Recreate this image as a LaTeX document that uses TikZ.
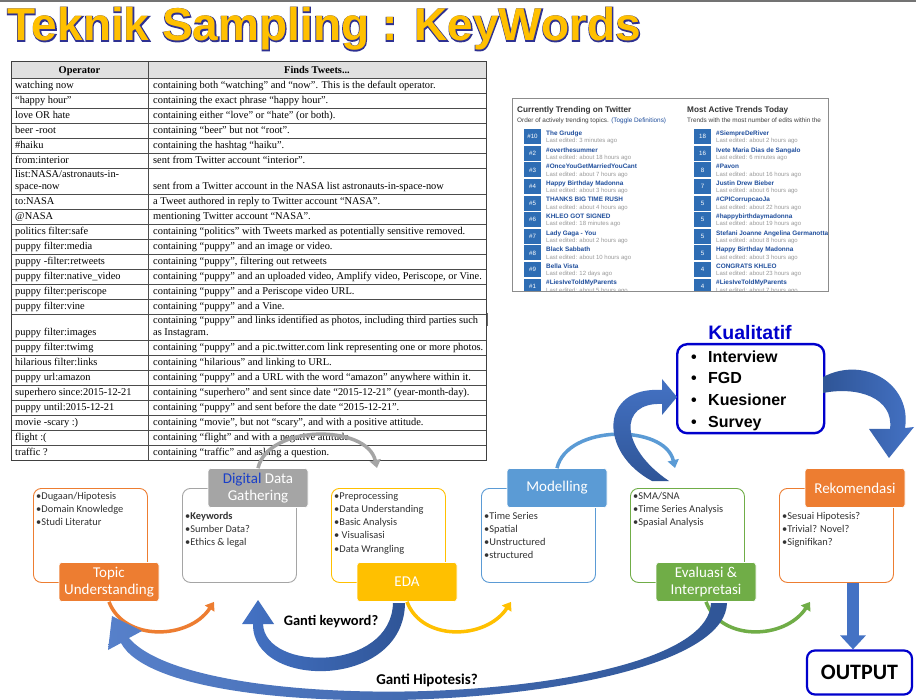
\documentclass[tikz,border=0pt]{standalone}
\usepackage{fontspec}
\setmainfont{Carlito}
\newfontfamily\serifTab{Liberation Serif}
\newfontfamily\arialF{Liberation Sans}
\newfontfamily\titleFill{Liberation Sans Bold}
\newfontfamily\titleRim{Liberation Sans Bold}[FakeBold=4]
\usetikzlibrary{positioning,calc,arrows.meta}

\definecolor{tuOrange}{HTML}{ED7D31}
\definecolor{ddGray}{HTML}{A5A5A5}
\definecolor{edaYellow}{HTML}{FFC000}
\definecolor{mdBlue}{HTML}{5B9BD5}
\definecolor{evGreen}{HTML}{70AD47}
\definecolor{kwBlue}{HTML}{4472C4}
\definecolor{kwDark}{HTML}{2F5597}
\definecolor{kualBlue}{HTML}{0000CC}
\definecolor{digBlue}{HTML}{1A3FC8}
\definecolor{titleYellow}{HTML}{FFC000}
\definecolor{titleBlue}{HTML}{2E3192}
\definecolor{trendBlue}{HTML}{2E6DB4}
\definecolor{trendLink}{HTML}{1F4E9C}

\tikzset{
  tabline/.style={draw=black!70, line width=0.6pt},
  opcell/.style={anchor=base west, inner sep=0pt, font=\serifTab\fontsize{10.4}{11}\selectfont},
  procbox/.style={draw=#1, line width=0.9pt, rounded corners=8pt, fill=white,
    minimum width=114pt, minimum height=94pt, anchor=north west},
  proctab/.style={fill=#1, draw=white, line width=0.6pt, rounded corners=3pt,
    minimum width=100pt, minimum height=39pt, text=white, align=center, inner sep=0pt,
    font=\fontsize{15}{17}\selectfont},
  bullets/.style={anchor=north west, align=left, inner sep=0pt, text=black!80,
    font=\fontsize{10.4}{13.2}\selectfont},
  cyclearc/.style={draw=#1, line width=3.5pt, -{Triangle[width=11pt,length=8pt]}},
  trendhead/.style={anchor=base west, inner sep=0pt, text=black!80, font=\arialF\bfseries\fontsize{8.2}{9}\selectfont},
  trendsub/.style={anchor=base west, inner sep=0pt, text=black!75, font=\arialF\fontsize{6.4}{7}\selectfont},
  trendbadge/.style={fill=trendBlue, text=white, minimum width=17pt, minimum height=15pt, inner sep=0pt,
    font=\arialF\fontsize{6.2}{7}\selectfont},
  trendtitle/.style={anchor=base west, inner sep=0pt, text=trendLink, font=\arialF\bfseries\fontsize{6.4}{7}\selectfont},
  trendago/.style={anchor=base west, inner sep=0pt, text=black!40, font=\arialF\fontsize{6}{7}\selectfont},
  kualitem/.style={anchor=base west, inner sep=0pt, font=\arialF\bfseries\fontsize{16}{18}\selectfont},
  askme/.style={inner sep=0pt, font=\bfseries\fontsize{14.5}{16}\selectfont},
}

\begin{document}
\begin{tikzpicture}[x=1pt, y=-1pt]
  \useasboundingbox (0,0) rectangle (916,700);
  \fill[white] (0,0) rectangle (916,700);
  \fill[black!55] (0,0) rectangle (916,2.5);

  % Title with its rim
  \node[anchor=base west, inner sep=0pt, text=titleBlue, font=\titleRim\fontsize{46}{48}\selectfont]
    (titlerim) at (7,41) {Teknik Sampling : KeyWords};
  \node[anchor=base west, inner sep=0pt, text=titleYellow, font=\titleFill\fontsize{46}{48}\selectfont]
    (title) at (7,41) {Teknik Sampling : KeyWords};

  % Search operator table
  \fill[black!12] (11,61) rectangle (486,78);
  \node[opcell, anchor=base, font=\serifTab\bfseries\fontsize{10.4}{11}\selectfont] (ophead) at (79.5,73.5) {Operator};
  \node[opcell, anchor=base, font=\serifTab\bfseries\fontsize{10.4}{11}\selectfont] (fdhead) at (317,73.5) {Finds Tweets...};
  \draw[tabline] (11,78) -- (486,78);
  \foreach \yb/\op/\fd [count=\r] in {
    93/watching now/containing both “watching” and “now”. This is the default operator.,
    108/“happy hour”/containing the exact phrase “happy hour”.,
    123/love OR hate/containing either “love” or “hate” (or both).,
    138/beer -root/containing “beer” but not “root”.,
    153/\#haiku/containing the hashtag “haiku”.,
    168/from:interior/sent from Twitter account “interior”.,
    209/to:NASA/a Tweet authored in reply to Twitter account “NASA”.,
    224/@NASA/mentioning Twitter account “NASA”.,
    239/politics filter:safe/containing “politics” with Tweets marked as potentially sensitive removed.,
    254/puppy filter:media/containing “puppy” and an image or video.,
    269/puppy -filter:retweets/{containing “puppy”, filtering out retweets},
    284/puppy filter:native\_video/{containing “puppy” and an uploaded video, Amplify video, Periscope, or Vine.},
    299/puppy filter:periscope/containing “puppy” and a Periscope video URL.,
    314/puppy filter:vine/containing “puppy” and a Vine.,
    355/puppy filter:twimg/containing “puppy” and a pic.twitter.com link representing one or more photos.,
    370/hilarious filter:links/containing “hilarious” and linking to URL.,
    385/puppy url:amazon/containing “puppy” and a URL with the word “amazon” anywhere within it.,
    400/superhero since:2015-12-21/containing “superhero” and sent since date “2015-12-21” (year-month-day).,
    415/puppy until:2015-12-21/containing “puppy” and sent before the date “2015-12-21”.,
    430/movie -scary :)/{containing “movie”, but not “scary”, and with a positive attitude.},
    445/flight :(/containing “flight” and with a negative attitude.,
    460/traffic ?/containing “traffic” and asking a question.}
  {
    \draw[tabline] (11,\yb) -- (486,\yb);
    \node[opcell] (op\r) at (15,\yb-4.5) {\op};
    \node[opcell] (fd\r) at (153,\yb-4.5) {\fd};
  }
  % two-line rows
  \draw[tabline] (11,194) -- (486,194);
  \node[opcell] (oplist) at (15,178) {list:NASA/astronauts-in-};
  \node[opcell] (oplist2) at (15,189.5) {space-now};
  \node[opcell] (fdlist) at (153,189.5) {sent from a Twitter account in the NASA list astronauts-in-space-now};
  \draw[tabline] (11,340) -- (486,340);
  \node[opcell] (fdimg) at (153,324) {containing “puppy” and links identified as photos, including third parties such};
  \node[opcell] (fdimg2) at (153,335.5) {as Instagram.};
  \node[opcell] (opimg) at (15,335.5) {puppy filter:images};
  \draw[tabline] (148,61) -- (148,460);
  \draw[black!75, line width=0.9pt] (11,61) rectangle (486,460);
  \draw[black!60, line width=0.6pt] (487.5,313) -- (487.5,326);

  % Trending on Twitter panel
  \draw[black!45, line width=0.8pt] (512,98) rectangle (828,291);
  \begin{scope}
    \clip (512.5,98.5) rectangle (827.5,290.5);
    \node[trendhead] (lhead) at (517,113) {Currently Trending on Twitter};
    \node[trendsub] (lsub) at (517,123) {Order of actively trending topics. \textcolor{trendLink}{(Toggle Definitions)}};
    \node[trendhead] (rhead) at (687,113) {Most Active Trends Today};
    \node[trendsub] (rsub) at (687,123) {Trends with the most number of edits within the};
    \foreach \nm/\ttl/\ago [count=\i] in {
      \#10/The Grudge/3 minutes ago,
      \#2/\#overthesummer/about 18 hours ago,
      \#3/\#OnceYouGetMarriedYouCant/about 7 hours ago,
      \#4/Happy Birthday Madonna/about 3 hours ago,
      \#5/THANKS BIG TIME RUSH/about 4 hours ago,
      \#6/KHLEO GOT SIGNED/18 minutes ago,
      \#7/Lady Gaga - You/about 2 hours ago,
      \#8/Black Sabbath/about 10 hours ago,
      \#9/Bella Vista/12 days ago,
      \#1/\#LiesIveToldMyParents/about 5 hours ago}
    {
      \node[trendbadge] (lb\i) at (532.5,136.8+16.6*\i-16.6) {\nm};
      \node[trendtitle] (lt\i) at (546,135.5+16.6*\i-16.6) {\ttl};
      \node[trendago] (la\i) at (546,142.9+16.6*\i-16.6) {Last edited: \ago};
    }
    \foreach \nm/\ttl/\ago [count=\i] in {
      18/\#SiempreDeRiver/about 2 hours ago,
      16/Ivete Maria Dias de Sangalo/6 minutes ago,
      8/\#Pavon/about 16 hours ago,
      7/Justin Drew Bieber/about 6 hours ago,
      5/\#CPICorrupcaoJa/about 22 hours ago,
      5/\#happybirthdaymadonna/about 19 hours ago,
      5/Stefani Joanne Angelina Germanotta/about 8 hours ago,
      5/Happy Birthday Madonna/about 3 hours ago,
      4/CONGRATS KHLEO/about 23 hours ago,
      4/\#LiesIveToldMyParents/about 7 hours ago}
    {
      \node[trendbadge] (rb\i) at (702.5,136.8+16.6*\i-16.6) {\nm};
      \node[trendtitle] (rt\i) at (716,135.5+16.6*\i-16.6) {\ttl};
      \node[trendago] (ra\i) at (716,142.9+16.6*\i-16.6) {Last edited: \ago};
    }
  \end{scope}

  % Process boxes
  \node[procbox=tuOrange] (tubox) at (33,488) {};
  \node[procbox=ddGray] (ddbox) at (182,488) {};
  \node[procbox=edaYellow] (edabox) at (331,488) {};
  \node[procbox=mdBlue] (mdbox) at (481,488) {};
  \node[procbox=evGreen] (evbox) at (630,488) {};
  \node[procbox=tuOrange] (rkbox) at (779,488) {};

  \node[bullets] (tulist) at (36,492) {•Dugaan/Hipotesis\\•Domain Knowledge\\•Studi Literatur};
  \node[bullets] (ddlist) at (185,512) {•\textbf{Keywords}\\•Sumber Data?\\•Ethics \& legal};
  \node[bullets] (edalist) at (334,492) {•Preprocessing\\•Data Understanding\\•Basic Analysis\\• Visualisasi\\•Data Wrangling};
  \node[bullets] (mdlist) at (484,512) {•Time Series\\•Spatial\\•Unstructured\\•structured};
  \node[bullets] (evlist) at (633,492) {•SMA/SNA\\•Time Series Analysis\\•Spasial Analysis};
  \node[bullets] (rklist) at (782,512) {•Sesuai Hipotesis?\\•Trivial? Novel?\\•Signifikan?};

  \node[proctab=tuOrange] (tutab) at (109,582) {Topic\\Understanding};
  \node[proctab=ddGray] (ddtab) at (258,488) {\textcolor{digBlue}{Digital} Data\\Gathering};
  \node[proctab=edaYellow] (edatab) at (407,582) {EDA};
  \node[proctab=mdBlue] (mdtab) at (557,488) {Modelling};
  \node[proctab=evGreen] (evtab) at (706,582) {Evaluasi \&\\Interpretasi};
  \node[proctab=tuOrange] (rktab) at (855,488) {Rekomendasi};

  % Cycle arcs
  \draw[cyclearc=tuOrange] (tutab.south) .. controls +(15,40) and +(-25,38) .. ($(ddbox.south west)+(32,19)$);
  \draw[cyclearc=ddGray] (ddtab.north) .. controls +(10,-44) and +(-10,-44) .. ($(edabox.north west)+(46,-20)$);
  \draw[cyclearc=edaYellow] (edatab.south) .. controls +(15,40) and +(-25,38) .. ($(mdbox.south west)+(30,19)$);
  \draw[cyclearc=mdBlue] (mdtab.north) .. controls +(10,-44) and +(-10,-44) .. ($(evbox.north west)+(45,-20)$);
  \draw[cyclearc=evGreen] (evtab.south) .. controls +(15,40) and +(-25,38) .. ($(rkbox.south west)+(31,19)$);

  % Kualitatif
  \node[anchor=base, inner sep=0pt, text=kualBlue, font=\arialF\bfseries\fontsize{19.5}{20}\selectfont]
    (kualtitle) at (750,340) {Kualitatif};
  \node[draw=kualBlue, line width=2.4pt, rounded corners=10pt, minimum width=147pt, minimum height=89pt,
    anchor=north west] (kualbox) at (676,343) {};
  \foreach \kitem [count=\k] in {Interview,FGD,Kuesioner,Survey} {
    \node[kualitem] (kb\k) at (691,340.5+21.7*\k) {•};
    \node[kualitem] (kq\k) at (708,340.5+21.7*\k) {\kitem};
  }

  % Feedback arrows
  \shade[left color=kwBlue, right color=kwDark] (393,603) -- (405,603)
    .. controls (404,690) and (252,690) .. (253,624) -- (242,624) -- (258,600) -- (274,624) -- (263,624)
    .. controls (265,672) and (391,672) .. (393,603) -- cycle;
  \node[askme] (gkw) at (331,622) {Ganti keyword?};
  \shade[left color=kwBlue!90!white, right color=kwDark] (727,603)
    .. controls (724,712) and (170,735) .. (121,643) -- (108,650) -- (112,616) -- (142,631) -- (129,638)
    .. controls (200,722) and (708,705) .. (711,603) -- cycle;
  \node[askme, font=\bfseries\fontsize{15}{16}\selectfont] (ghip) at (427,680) {Ganti Hipotesis?};
  \shade[top color=kwBlue, bottom color=kwDark] (652,481)
    .. controls (598,452) and (600,386) .. (662,390) -- (662,379) -- (677,397) -- (662,415) -- (662,404)
    .. controls (618,402) and (620,448) .. (669,481) -- cycle;
  \shade[left color=kwDark, right color=kwBlue] (823,377)
    .. controls (865,355) and (912,385) .. (905,428) -- (914,427) -- (889,458) -- (869,429) -- (890,429)
    .. controls (894,398) and (858,386) .. (823,393) -- cycle;

  % Output
  \node[draw=kualBlue, line width=2.2pt, rounded corners=8pt, minimum width=105pt, minimum height=44pt,
    font=\bfseries\fontsize{22}{24}\selectfont] (outbox) at (859.5,672.5) {OUTPUT};
  \draw[kwBlue, line width=12pt, -{Triangle[width=25pt,length=14pt]}] (853,583) -- (853,583 |- outbox.north);
\end{tikzpicture}
\end{document}
